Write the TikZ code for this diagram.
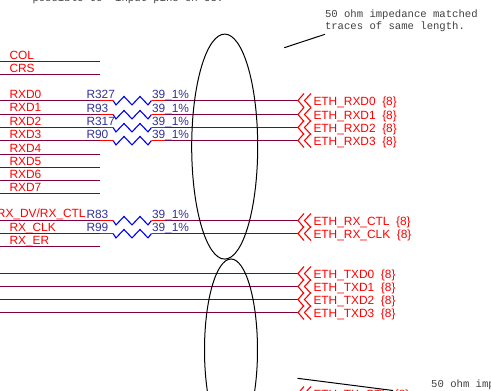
\documentclass[tikz,border=0pt]{standalone}
\usepackage{fontspec}
\setmainfont{Liberation Sans}
\setmonofont{Liberation Mono}
\usetikzlibrary{shapes.geometric, positioning}
\definecolor{netcol}{HTML}{800040}
\definecolor{refcol}{HTML}{333399}
\definecolor{notecol}{HTML}{404040}
\NewDocumentCommand{\portmark}{m}{%
    \draw[stub] ([xshift=6pt, yshift=7pt]#1) -- (#1) -- ([xshift=6pt, yshift=-7pt]#1);
    \draw[stub] ([xshift=13pt, yshift=7pt]#1) -- ([xshift=6.5pt]#1) -- ([xshift=13pt, yshift=-7pt]#1);
}
\NewDocumentCommand{\netrow}{mmmmm}{%
    \coordinate (wa#1) at (0,#2);
    \coordinate (sa#1) at (100,#2);
    \coordinate (ra#1) at (113,#2);
    \coordinate (rb#1) at (151.5,#2);
    \coordinate (sb#1) at (165,#2);
    \coordinate (pt#1) at (298,#2);
    \draw[net] (wa#1) -- (sa#1);
    \draw[stub] (sa#1) -- (ra#1);
    \draw[res] (ra#1) -- ++(3,4.4) -- ++(8,-8.4) -- ++(8,8.4) -- ++(8,-8.4) -- ++(8,8.4) -- (rb#1);
    \draw[stub] (rb#1) -- (sb#1);
    \draw[net] (sb#1) -- (pt#1);
    \node[refname] (rn#1) at (86,#2-2) {#3};
    \node[refname] (rv#1) at (151.5,#2-2) {#4\_1\%};
    \portmark{pt#1}
    \node[sig] (et#1) at (313,#2+4.5) {#5\ \ \{8\}};
}
\begin{document}
\begin{tikzpicture}[x=1pt, y=-1pt, line width=1pt,
    net/.style = {draw=netcol, line width=1.1pt},
    stub/.style = {draw=red, line width=1.1pt},
    res/.style = {draw=blue, line width=1.1pt},
    sig/.style = {anchor=base west, inner sep=0pt, text=red, font=\fontsize{11.9}{12}\selectfont},
    refname/.style = {anchor=base west, inner sep=0pt, text=refcol, font=\fontsize{11.9}{12}\selectfont},
    note/.style = {anchor=base west, inner sep=0pt, text=notecol, font=\ttfamily\fontsize{10.6}{12}\selectfont},
    bundle/.style = {draw=black, ellipse, inner sep=0pt}]
    \useasboundingbox (0,0) rectangle (491,391);
    \clip (0,0) rectangle (491,391);

    % left signals
    \foreach \yy/\nm/\txt in {61.5/col/COL, 74.5/crs/CRS, 154.5/rxf/RXD4, 167.5/rxg/RXD5, 180.5/rxh/RXD6, 193.5/rxi/RXD7, 246.5/rxer/RX\_ER} {
        \coordinate (wa\nm) at (0,\yy);
        \coordinate (sa\nm) at (100,\yy);
        \draw[net] (wa\nm) -- (sa\nm);
        \node[sig] (lb\nm) at (9,\yy-2.5) {\txt};
    }
    \node[sig] (lbrxa) at (9,98.5) {RXD0};
    \node[sig] (lbrxb) at (9,111.8) {RXD1};
    \node[sig] (lbrxc) at (9,125.1) {RXD2};
    \node[sig] (lbrxd) at (9,138.1) {RXD3};
    \node[sig] (lbctl) at (-3.5,217.8) {RX\_DV/RX\_CTL};
    \node[sig] (lbclk) at (9,231.1) {RX\_CLK};

    % series resistors
    \netrow{rxa}{100.5}{R327}{39}{ETH\_RXD0}
    \netrow{rxb}{114.5}{R93}{39}{ETH\_RXD1}
    \netrow{rxc}{127.5}{R317}{39}{ETH\_RXD2}
    \netrow{rxd}{140.5}{R90}{39}{ETH\_RXD3}
    \netrow{ctl}{220.5}{R83}{39}{ETH\_RX\_CTL}
    \netrow{clk}{233.5}{R99}{39}{ETH\_RX\_CLK}

    % transmit side
    \foreach \yy/\nm/\txt in {273.5/txa/ETH\_TXD0, 286.5/txb/ETH\_TXD1, 299.5/txc/ETH\_TXD2, 312.5/txd/ETH\_TXD3} {
        \coordinate (wa\nm) at (0,\yy);
        \coordinate (pt\nm) at (298,\yy);
        \draw[net] (wa\nm) -- (pt\nm);
        \portmark{pt\nm}
        \node[sig] (et\nm) at (313,\yy+4.5) {\txt\ \ \{8\}};
    }
    \coordinate (pttxctl) at (298,393.5);
    \portmark{pttxctl}
    \node[sig] (ettxctl) at (313,398) {ETH\_TX\_CTL\ \ \{8\}};

    % trace groups
    \node[bundle, minimum width=66pt, minimum height=225pt] (rxloop) at (224.7,146.6) {};
    \node[bundle, minimum width=53pt, minimum height=182pt] (txloop) at (231,350) {};

    % notes
    \node[note] (notetop) at (32,1) {possible to\ \ input pins on U3.};
    \node[note] (notea) at (324.5,17) {50 ohm impedance matched};
    \node[note] (noteb) at (324.5,29) {traces of same length.};
    \node[note] (notec) at (430.7,387.3) {50 ohm impedance matched};
    \coordinate (leada) at (325,34.3);
    \coordinate (leadb) at (284.3,47.7);
    \coordinate (leadc) at (297.5,378.3);
    \coordinate (leadd) at (393,390.5);
    \draw (leada) -- (leadb);
    \draw (leadc) -- (leadd);
\end{tikzpicture}
\end{document}
